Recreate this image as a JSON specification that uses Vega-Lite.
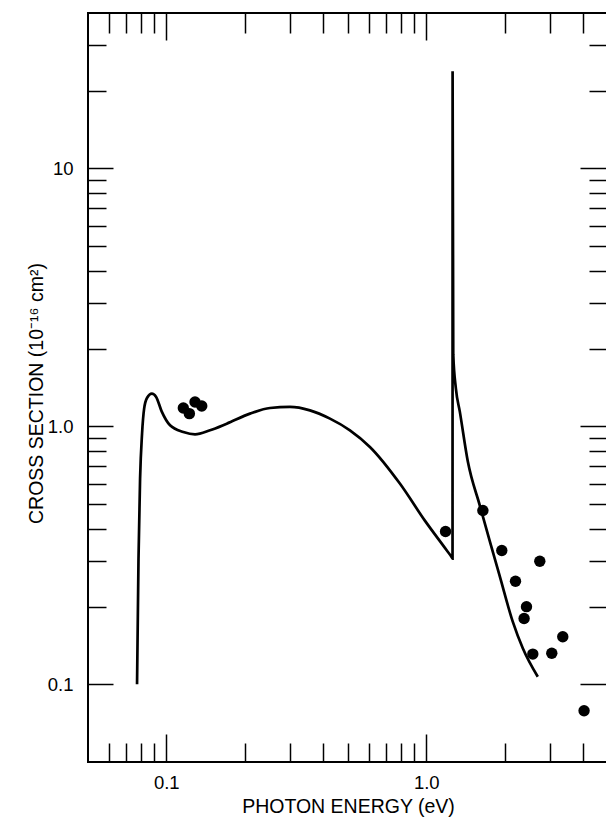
{
  "$schema": "https://vega.github.io/schema/vega-lite/v6.json",
  "autosize": "none",
  "width": 520,
  "height": 749,
  "padding": {"left": 88, "top": 13, "right": 0, "bottom": 59},
  "background": "white",
  "config": {
    "view": {"stroke": "black", "strokeWidth": 2},
    "font": "Liberation Sans",
    "axis": {
      "labelFont": "Liberation Sans",
      "titleFont": "Liberation Sans",
      "labelColor": "black",
      "titleColor": "black",
      "tickColor": "black",
      "grid": false,
      "domain": false,
      "labelFontSize": 18.5,
      "titleFontSize": 19.5,
      "titleFontWeight": "normal",
      "tickWidth": 1.5,
      "labelOverlap": false,
      "labelFlush": false,
      "labelBound": false
    }
  },
  "datasets": {
    "curve": [
      {"i": 1, "energy": 0.0772, "cs": 0.100},
      {"i": 2, "energy": 0.0782, "cs": 0.307},
      {"i": 3, "energy": 0.0793, "cs": 0.627},
      {"i": 4, "energy": 0.0807, "cs": 0.937},
      {"i": 5, "energy": 0.0822, "cs": 1.171},
      {"i": 6, "energy": 0.0844, "cs": 1.291},
      {"i": 7, "energy": 0.0880, "cs": 1.339},
      {"i": 8, "energy": 0.0913, "cs": 1.303},
      {"i": 9, "energy": 0.0961, "cs": 1.140},
      {"i": 10, "energy": 0.1034, "cs": 1.009},
      {"i": 11, "energy": 0.1163, "cs": 0.951},
      {"i": 12, "energy": 0.1290, "cs": 0.931},
      {"i": 13, "energy": 0.1473, "cs": 0.965},
      {"i": 14, "energy": 0.1708, "cs": 1.024},
      {"i": 15, "energy": 0.2099, "cs": 1.120},
      {"i": 16, "energy": 0.2506, "cs": 1.178},
      {"i": 17, "energy": 0.2991, "cs": 1.189},
      {"i": 18, "energy": 0.3569, "cs": 1.153},
      {"i": 19, "energy": 0.4262, "cs": 1.071},
      {"i": 20, "energy": 0.5086, "cs": 0.965},
      {"i": 21, "energy": 0.6071, "cs": 0.832},
      {"i": 22, "energy": 0.7915, "cs": 0.600},
      {"i": 23, "energy": 0.9877, "cs": 0.431},
      {"i": 24, "energy": 1.200, "cs": 0.330},
      {"i": 25, "energy": 1.255, "cs": 0.310},
      {"i": 26, "energy": 1.2620, "cs": 0.307},
      {"i": 27, "energy": 1.2626, "cs": 23.8},
      {"i": 28, "energy": 1.2700, "cs": 1.90},
      {"i": 29, "energy": 1.300, "cs": 1.40},
      {"i": 30, "energy": 1.346, "cs": 1.14},
      {"i": 31, "energy": 1.445, "cs": 0.730},
      {"i": 32, "energy": 1.607, "cs": 0.493},
      {"i": 33, "energy": 1.756, "cs": 0.358},
      {"i": 34, "energy": 1.918, "cs": 0.262},
      {"i": 35, "energy": 2.151, "cs": 0.175},
      {"i": 36, "energy": 2.351, "cs": 0.138},
      {"i": 37, "energy": 2.685, "cs": 0.107}
    ],
    "dots": [
      {"energy": 0.1163, "cs": 1.178},
      {"energy": 0.1227, "cs": 1.120},
      {"energy": 0.1290, "cs": 1.243},
      {"energy": 0.1369, "cs": 1.199},
      {"energy": 1.186, "cs": 0.391},
      {"energy": 1.651, "cs": 0.472},
      {"energy": 1.952, "cs": 0.330},
      {"energy": 2.204, "cs": 0.251},
      {"energy": 2.429, "cs": 0.200},
      {"energy": 2.378, "cs": 0.180},
      {"energy": 2.733, "cs": 0.300},
      {"energy": 2.569, "cs": 0.131},
      {"energy": 3.039, "cs": 0.132},
      {"energy": 3.350, "cs": 0.153},
      {"energy": 4.045, "cs": 0.079}
    ]
  },
  "layer": [
    {
      "data": {"name": "curve"},
      "mark": {"type": "line", "color": "black", "strokeWidth": 2.7, "interpolate": "monotone", "clip": true},
      "encoding": {
        "x": {
          "field": "energy", "type": "quantitative",
          "scale": {"type": "log", "domain": [0.05, 5], "nice": false},
          "axis": {
            "orient": "bottom",
            "values": [0.06, 0.07, 0.08, 0.09, 0.1, 0.2, 0.3, 0.4, 0.5, 0.6, 0.7, 0.8, 0.9, 1, 2, 3, 4],
            "labelExpr": "datum.value === 0.1 ? '0.1' : datum.value === 1 ? '1.0' : ''",
            "tickSize": {"condition": {"test": "datum.value === 0.1 || datum.value === 1", "value": -28}, "value": -19},
            "labelPadding": 39,
            "labelBaseline": "top",
            "title": "PHOTON ENERGY (eV)",
            "titleX": 260,
            "titleY": 44,
            "titleAlign": "center",
            "titleBaseline": "middle",
            "titleAngle": 0
          }
        },
        "y": {
          "field": "cs", "type": "quantitative",
          "scale": {"type": "log", "domain": [0.05, 40], "nice": false},
          "axis": {
            "orient": "left",
            "values": [0.1, 0.2, 0.3, 0.4, 0.5, 0.6, 0.7, 0.8, 0.9, 1, 2, 3, 4, 5, 6, 7, 8, 9, 10, 20, 30],
            "labelExpr": "datum.value === 0.1 ? '0.1' : datum.value === 1 ? '1.0' : datum.value === 10 ? '10' : ''",
            "tickSize": {"condition": {"test": "datum.value === 0.1 || datum.value === 1 || datum.value === 10", "value": -25}, "value": -18},
            "labelPadding": 40,
            "labelAlign": "right",
            "labelBaseline": "middle",
            "title": "CROSS SECTION (10⁻¹⁶ cm²)",
            "titleX": -52,
            "titleY": 380,
            "titleAngle": -90,
            "titleAlign": "center",
            "titleBaseline": "middle"
          }
        },
        "order": {"field": "i", "type": "quantitative"}
      }
    },
    {
      "data": {"name": "dots"},
      "mark": {"type": "circle", "color": "black", "opacity": 1, "size": 130},
      "encoding": {
        "x": {
          "field": "energy", "type": "quantitative",
          "scale": {"type": "log", "domain": [0.05, 5], "nice": false},
          "axis": {
            "orient": "top",
            "values": [0.06, 0.07, 0.08, 0.09, 0.1, 0.2, 0.3, 0.4, 0.5, 0.6, 0.7, 0.8, 0.9, 1, 2, 3, 4],
            "labels": false,
            "title": null,
            "tickSize": {"condition": {"test": "datum.value === 0.1 || datum.value === 1", "value": -27}, "value": -20}
          }
        },
        "y": {
          "field": "cs", "type": "quantitative",
          "scale": {"type": "log", "domain": [0.05, 40], "nice": false},
          "axis": {
            "orient": "right",
            "values": [0.1, 0.2, 0.3, 0.4, 0.5, 0.6, 0.7, 0.8, 0.9, 1, 2, 3, 4, 5, 6, 7, 8, 9, 10, 20, 30],
            "labels": false,
            "title": null,
            "tickSize": {"condition": {"test": "datum.value === 0.1 || datum.value === 1 || datum.value === 10", "value": -28}, "value": -19}
          }
        }
      }
    }
  ],
  "resolve": {"axis": {"x": "independent", "y": "independent"}}
}
